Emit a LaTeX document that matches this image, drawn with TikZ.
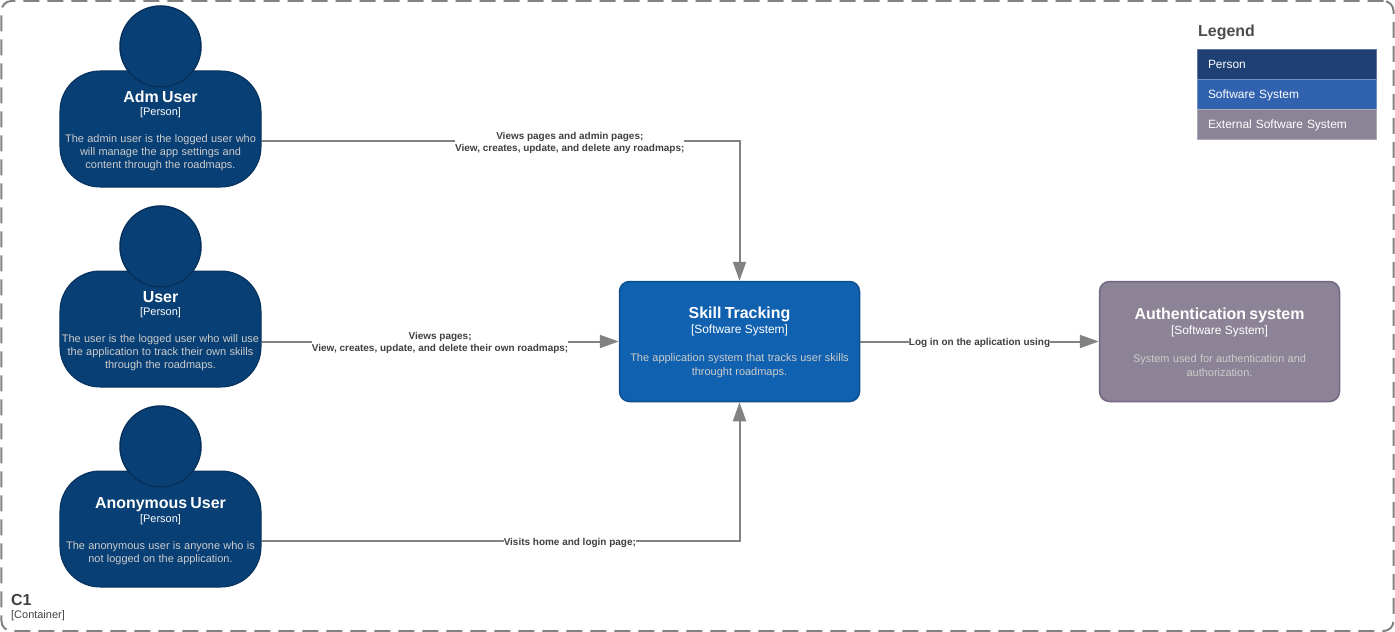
\documentclass[tikz,border=0pt]{standalone}
\usepackage{xcolor}
\usepackage{fontspec}
\setmainfont{Liberation Sans}
\usetikzlibrary{arrows.meta,positioning,calc}
\definecolor{personfill}{HTML}{083F75}
\definecolor{personline}{HTML}{06315C}
\definecolor{systemfill}{HTML}{1061B0}
\definecolor{systemline}{HTML}{0D5091}
\definecolor{extfill}{HTML}{8C8496}
\definecolor{extline}{HTML}{736782}
\definecolor{linkgray}{HTML}{828282}
\definecolor{bodygray}{HTML}{CCCCCC}
\definecolor{legperson}{HTML}{1E4074}
\definecolor{legsystem}{HTML}{3162AF}
\definecolor{legext}{HTML}{8B8496}
\newcommand{\persontext}[2]{{\fontsize{16}{15}\selectfont\bfseries\rule{0pt}{15.2bp}#1\par}
  {\fontsize{11}{13.5}\selectfont [Person]\par}\vspace{14bp}
  {\fontsize{11}{13}\selectfont\color{bodygray} #2\par}}
\newcommand{\systemtext}[2]{{\fontsize{16}{16}\selectfont\bfseries\rule{0pt}{12.7bp}#1\par}
  {\fontsize{12}{15}\selectfont [Software System]\par}\vspace{14bp}
  {\fontsize{11}{14}\selectfont\color{bodygray} #2\par}}

\begin{document}
\begin{tikzpicture}[
    x=1bp, y=-1bp,
    >={Triangle[length=19bp, width=13bp]},
    personbody/.style={draw=personline, fill=personfill, line width=1bp, rounded corners=40bp,
                minimum width=201bp, minimum height=116bp, inner sep=0pt, text=white,
                text width=199bp, align=center},
    personhead/.style={draw=personline, fill=personfill, line width=1.5bp, circle,
                minimum size=81bp, inner sep=0pt},
    sysbox/.style={line width=1.5bp, rounded corners=10bp, minimum width=240bp,
                minimum height=120bp, inner sep=0pt, text=white, text width=230bp, align=center},
    legendrow/.style={draw=#1!70!white, fill=#1, minimum width=179bp, minimum height=30bp,
                inner sep=0pt, text=white, font=\fontsize{12}{14}\selectfont,
                text width=157bp, text height=11bp, text depth=2.4bp, align=left},
    link/.style={->, draw=linkgray, line width=2bp},
    linklabel/.style={fill=white, inner xsep=0pt, inner ysep=1bp, text=black!75, align=center,
                yshift=-1.5bp, font=\fontsize{10}{12}\selectfont\bfseries},
  ]
  \useasboundingbox (0,0) rectangle (1395,632);

  % frame
  \node[draw=linkgray, line width=2bp, dash pattern=on 16bp off 8bp, rounded corners=10bp,
    minimum width=1392bp, minimum height=630bp, inner sep=0pt] at (697.5,316) (frame) {};
  \node[anchor=north west, inner sep=0pt, align=left, text=black!75] at (11,594) (frametitle)
    {\fontsize{16}{15}\selectfont\bfseries C1\\[1bp]\fontsize{11}{15}\selectfont [Container]};

  % persons
  \node[personbody] at (160.5,129) (adm)
    {\persontext{Adm User}{The admin user is the logged user who\\will manage the app settings and\\content through the roadmaps.}};
  \node[personhead] at (160.5,46.5) (admhead) {};
  \node[personbody] at (160.5,329) (user)
    {\persontext{User}{The user is the logged user who will use\\the application to track their own skills\\through the roadmaps.}};
  \node[personhead] at (160.5,246.5) (userhead) {};
  \node[personbody] at (160.5,529) (anon)
    {\persontext{Anonymous User}{The anonymous user is anyone who is\\not logged on the application.}};
  \node[personhead] at (160.5,446.5) (anonhead) {};

  % systems
  \node[sysbox, draw=systemline, fill=systemfill] at (739.5,341.5) (skill)
    {\systemtext{Skill Tracking}{The application system that tracks user skills\\throught roadmaps.}};
  \node[sysbox, draw=extline, fill=extfill] at (1219.5,341.5) (auth)
    {\systemtext{Authentication system}{System used for authentication and\\authorization.}};

  % legend
  \node[anchor=west, inner sep=0pt, text=black!70, font=\fontsize{16}{18}\selectfont\bfseries] at (1198,32) (legendtitle) {Legend};
  \node[legendrow=legperson] at (1286.5,64.5) (legendperson) {Person};
  \node[legendrow=legsystem] at (1286.5,94.5) (legendsystem) {Software System};
  \node[legendrow=legext] at (1286.5,124.5) (legendext) {External Software System};

  % links
  \draw[link] ([yshift=-12bp]adm.east) -| node[linklabel, pos=0.3225]
    {Views pages and admin pages;\\View, creates, update, and delete any roadmaps;} (skill.north);
  \draw[link] (user.east |- skill.west) -- node[linklabel]
    {Views pages;\\View, creates, update, and delete their own roadmaps;} (skill.west);
  \draw[link] ([yshift=-12bp]anon.east) -| node[linklabel, pos=0.3225]
    {Visits home and login page;} (skill.south);
  \draw[link] (skill.east) -- node[linklabel] {Log in on the aplication using} (auth.west);

\end{tikzpicture}
\end{document}
